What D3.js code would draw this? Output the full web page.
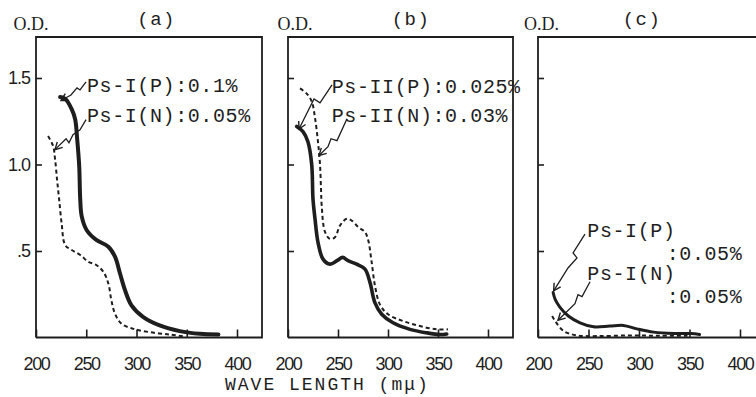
<!DOCTYPE html>
<html><head><meta charset="utf-8">
<script src="https://cdn.jsdelivr.net/npm/d3@7"></script>
<style>body{margin:0;background:#fff}svg{display:block}</style>
</head><body>
<svg id="chart" width="756" height="397"></svg>
<script>
// ---- data ----
const xTicks = [200, 250, 300, 350, 400];
const yTicks = [0.5, 1.0, 1.5];
const yTickLabels = [".5", "1.0", "1.5"];
const panelTitles = ["(a)", "(b)", "(c)"];
const xTitle = "WAVE LENGTH (mμ)";
const yTitle = "O.D.";

// panel (a)
const aP_wl = [224,229,235.5,239,241,243,244,245.5,250.5,260,272,278.6,283.6,288.6,295,306.8,323,343,363,381.5];
const aP_od = [1.39,1.38,1.32,1.26,1.145,0.99,0.80,0.70,0.62,0.564,0.525,0.467,0.37,0.273,0.186,0.118,0.07,0.037,0.021,0.017];
const aN_wl = [212,217,219,221,223,225.5,229,235.5,244,252,260,267,272,275,278.6,285,297,313,333,348];
const aN_od = [1.165,1.107,1.03,0.91,0.80,0.66,0.535,0.506,0.477,0.438,0.419,0.38,0.312,0.215,0.138,0.08,0.05,0.031,0.017,0.006];
// panel (b)
const bP_wl = [208.7,215,220,223.7,225,227,230,235,242,249,254.7,260,268.7,277,282,287,293.7,305,322,338.7,352,358.7];
const bP_od = [1.22,1.19,1.13,1.0,0.80,0.686,0.55,0.453,0.424,0.444,0.463,0.444,0.424,0.395,0.318,0.20,0.134,0.085,0.047,0.027,0.017,0.02];
const bN_wl = [212,218.7,223.7,227,230,232,233,233.7,237,242,247,252,258.7,263.7,270.3,277,280.3,283.7,287,292,300,315,332,348.7,360];
const bN_od = [1.44,1.41,1.365,1.27,1.13,1.0,0.86,0.763,0.61,0.57,0.58,0.647,0.686,0.676,0.638,0.61,0.56,0.434,0.298,0.19,0.134,0.095,0.066,0.047,0.047];
// panel (c)
const cP_wl = [215,217,222,230,241.6,255,271,284.5,298,314.5,334.5,351.5,360];
const cP_od = [0.26,0.22,0.173,0.124,0.085,0.062,0.066,0.07,0.05,0.031,0.023,0.023,0.017];
const cN_wl = [214,217,225.5,239,259,290,320,348];
const cN_od = [0.124,0.095,0.037,0.012,0.008,0.012,0.01,0.01];

// annotations: label text, anchors (wavelength, O.D.) and leader zig-zags
const aLabels = [["Ps-I(P):0.1%", 250.7, 1.42], ["Ps-I(N):0.05%", 250.7, 1.244]];
const bLabels = [["Ps-II(P):0.025%", 243.7, 1.414], ["Ps-II(N):0.03%", 243.7, 1.247]];
const cLabels = [["Ps-I(P)", 248.8, 0.582], [":0.05%", 327.4, 0.448], ["Ps-I(N)", 248.8, 0.333], [":0.05%", 327.4, 0.20]];
const aLeaders = [
  [[249.8,1.477],[243.8,1.431],[240.8,1.443],[234.8,1.402],[224.9,1.37]],
  [[249.8,1.259],[243.8,1.201],[236.8,1.172],[232.8,1.126],[229.9,1.149],[218.9,1.086]]
];
const bLeaders = [
  [[244,1.46],[232,1.356],[226,1.379],[211,1.205]],
  [[259,1.264],[249,1.138],[243,1.149],[240,1.103],[231,1.052]]
];
const cLeaders = [
  [[246.5,0.598],[234.7,0.489],[238.6,0.460],[229.7,0.402],[215.5,0.27]],
  [[251.5,0.322],[243.6,0.236],[239.6,0.247],[236.6,0.195],[219.8,0.10]]
];

const zip = (w, o) => w.map((d, i) => [d, o[i]]);

// ---- layout ----
const ink = "#1e1e1e";
const frameTop = 37, frameBottom = 337.5;
const panels = [
  {x0: 36,  x1: 237, right: 262, P: zip(aP_wl, aP_od), N: zip(aN_wl, aN_od), labels: aLabels, leaders: aLeaders, titleWl: 320, odDx: -5, pw: 4},
  {x0: 288, x1: 488, right: 513, P: zip(bP_wl, bP_od), N: zip(bN_wl, bN_od), labels: bLabels, leaders: bLeaders, titleWl: 323, odDx: 7, pw: 3.6},
  {x0: 538, x1: 740, right: 775, P: zip(cP_wl, cP_od), N: zip(cN_wl, cN_od), labels: cLabels, leaders: cLeaders, titleWl: 303, odDx: 3.5, pw: 3}
];

const svg = d3.select("#chart");
const yScale = d3.scaleLinear().domain([0, 1.5]).range([frameBottom, frameBottom - 1.5 * 173]);
const tickFont = "'Liberation Sans', Arial, sans-serif";

panels.forEach((p, i) => {
  const x = d3.scaleLinear().domain([200, 400]).range([p.x0, p.x1]);
  const y = yScale;
  const g = svg.append("g");

  g.append("path")
    .attr("d", `M${p.x0},${frameBottom}V${frameTop}H${p.right}V${frameBottom}H${p.x0}`)
    .attr("fill", "none").attr("stroke", ink).attr("stroke-width", 1.8);

  const xa = g.append("g").attr("transform", `translate(0,${frameBottom})`)
    .call(d3.axisBottom(x).tickValues(xTicks).tickSize(-8).tickPadding(20).tickFormat(d3.format("d")));
  xa.select(".domain").remove();
  xa.attr("font-size", null).attr("font-family", null);
  xa.selectAll(".tick line").attr("stroke", ink).attr("stroke-width", 1.6);
  xa.selectAll(".tick text").attr("fill", ink)
    .attr("font-family", tickFont).attr("font-size", 18)
    .attr("letter-spacing", "-1.3px");

  const ya = g.append("g").attr("transform", `translate(${p.x0},0)`)
    .call(d3.axisLeft(y).tickValues(yTicks).tickSize(-6).tickPadding(6)
      .tickFormat((d, k) => i === 0 ? yTickLabels[k] : ""));
  ya.select(".domain").remove();
  ya.attr("font-size", null).attr("font-family", null);
  ya.selectAll(".tick line").attr("stroke", ink).attr("stroke-width", 1.6);
  ya.selectAll(".tick text").attr("fill", ink)
    .attr("font-family", tickFont).attr("font-size", 18)
    .attr("letter-spacing", "-1px");

  g.append("text").attr("x", p.x0 + p.odDx).attr("y", 30).attr("text-anchor", "middle")
    .attr("fill", ink).attr("font-family", "'Liberation Serif', serif").attr("font-size", 18)
    .text(yTitle);

  g.append("text").attr("x", x(p.titleWl)).attr("y", 25).attr("text-anchor", "middle")
    .attr("fill", ink).attr("font-family", "'Liberation Mono', monospace").attr("font-size", 19)
    .attr("letter-spacing", "1.5px").text(panelTitles[i]);

  const line = d3.line().x(d => x(d[0])).y(d => y(d[1])).curve(d3.curveCatmullRom.alpha(0.5));

  g.append("path").datum(p.N).attr("d", line).attr("fill", "none")
    .attr("stroke", ink).attr("stroke-width", 2).attr("stroke-dasharray", "4,3");
  g.append("path").datum(p.P).attr("d", line).attr("fill", "none")
    .attr("stroke", ink).attr("stroke-width", p.pw).attr("stroke-linecap", "round");

  p.leaders.forEach(L => {
    const pts = L.map(d => [x(d[0]), y(d[1])]);
    g.append("path").attr("d", d3.line()(pts)).attr("fill", "none")
      .attr("stroke", ink).attr("stroke-width", 1.3);
    const tip = pts[pts.length - 1], prev = pts[pts.length - 2];
    const ang = Math.atan2(prev[1] - tip[1], prev[0] - tip[0]);
    const len = 8, sp = 0.5;
    const h1 = [tip[0] + len * Math.cos(ang + sp), tip[1] + len * Math.sin(ang + sp)];
    const h2 = [tip[0] + len * Math.cos(ang - sp), tip[1] + len * Math.sin(ang - sp)];
    g.append("path").attr("d", d3.line()([h1, tip, h2])).attr("fill", "none")
      .attr("stroke", ink).attr("stroke-width", 1.4);
  });

  p.labels.forEach(l => {
    g.append("text").attr("x", x(l[1])).attr("y", y(l[2]))
      .attr("fill", ink).attr("font-family", "'Liberation Mono', monospace")
      .attr("font-size", 20).attr("letter-spacing", "0.6px").text(l[0]);
  });
});

svg.append("text").attr("x", 225).attr("y", 390)
  .attr("fill", ink).attr("font-family", "'Liberation Mono', monospace")
  .attr("font-size", 18).attr("letter-spacing", "2px").text(xTitle);
</script>
</body></html>
